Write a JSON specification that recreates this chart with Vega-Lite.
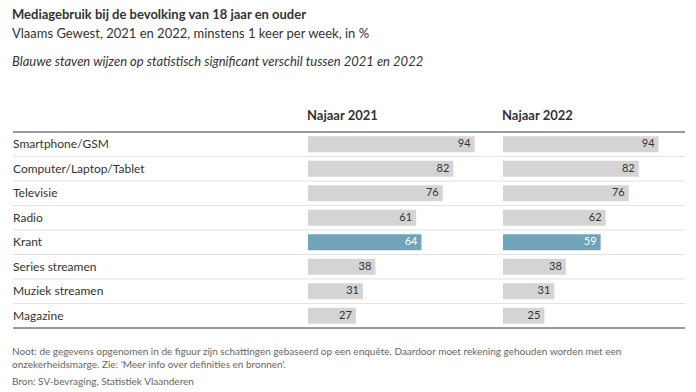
{
  "$schema": "https://vega.github.io/schema/vega-lite/v6.json",
  "padding": {"left": 12, "top": 9, "right": 12, "bottom": 5},
  "background": "white",
  "datasets": {
    "rows": [
      {"medium": "Smartphone/GSM", "periode": "Najaar 2021", "waarde": 94, "significant": false},
      {"medium": "Computer/Laptop/Tablet", "periode": "Najaar 2021", "waarde": 82, "significant": false},
      {"medium": "Televisie", "periode": "Najaar 2021", "waarde": 76, "significant": false},
      {"medium": "Radio", "periode": "Najaar 2021", "waarde": 61, "significant": false},
      {"medium": "Krant", "periode": "Najaar 2021", "waarde": 64, "significant": true},
      {"medium": "Series streamen", "periode": "Najaar 2021", "waarde": 38, "significant": false},
      {"medium": "Muziek streamen", "periode": "Najaar 2021", "waarde": 31, "significant": false},
      {"medium": "Magazine", "periode": "Najaar 2021", "waarde": 27, "significant": false},
      {"medium": "Smartphone/GSM", "periode": "Najaar 2022", "waarde": 94, "significant": false},
      {"medium": "Computer/Laptop/Tablet", "periode": "Najaar 2022", "waarde": 82, "significant": false},
      {"medium": "Televisie", "periode": "Najaar 2022", "waarde": 76, "significant": false},
      {"medium": "Radio", "periode": "Najaar 2022", "waarde": 62, "significant": false},
      {"medium": "Krant", "periode": "Najaar 2022", "waarde": 59, "significant": true},
      {"medium": "Series streamen", "periode": "Najaar 2022", "waarde": 38, "significant": false},
      {"medium": "Muziek streamen", "periode": "Najaar 2022", "waarde": 31, "significant": false},
      {"medium": "Magazine", "periode": "Najaar 2022", "waarde": 25, "significant": false}
    ]
  },
  "config": {
    "font": "Lato",
    "view": {"stroke": null},
    "concat": {"spacing": 0},
    "title": {"anchor": "start", "color": "#333333", "font": "Lato"}
  },
  "title": {
    "text": "Mediagebruik bij de bevolking van 18 jaar en ouder",
    "subtitle": "Vlaams Gewest, 2021 en 2022, minstens 1 keer per week, in %",
    "fontSize": 13,
    "fontWeight": "bold",
    "subtitleFontSize": 13,
    "subtitleColor": "#333333",
    "subtitlePadding": 6,
    "offset": 15
  },
  "vconcat": [
    {
      "title": {
        "text": "Blauwe staven wijzen op statistisch significant verschil tussen 2021 en 2022",
        "fontSize": 13,
        "fontStyle": "italic",
        "fontWeight": "normal",
        "color": "#333333",
        "offset": 41
      },
      "bounds": "flush",
      "spacing": 0,
      "hconcat": [
        {
          "width": 295,
          "height": 196,
          "data": {"name": "rows"},
          "transform": [{"filter": "datum.periode === 'Najaar 2021'"}],
          "title": {
            "text": ["Noot: de gegevens opgenomen in de figuur zijn schattingen gebaseerd op een enquête. Daardoor moet rekening gehouden worden met een", "onzekerheidsmarge. Zie: 'Meer info over definities en bronnen'."],
            "subtitle": "Bron: SV-bevraging, Statistiek Vlaanderen",
            "orient": "bottom",
            "anchor": "start",
            "fontSize": 10,
            "fontWeight": "normal",
            "color": "#666666",
            "lineHeight": 13,
            "subtitleFontSize": 10,
            "subtitleColor": "#666666",
            "subtitlePadding": 7,
            "offset": 18,
            "limit": 0
          },
          "encoding": {
            "y": {"field": "medium", "type": "nominal", "sort": null, "axis": null, "scale": {"paddingInner": 0, "paddingOuter": 0}}
          },
          "layer": [
            {
              "mark": {"type": "rule", "color": "#e3e3e3", "strokeWidth": 1},
              "transform": [{"filter": "datum.medium !== 'Magazine'"}],
              "encoding": {"y": {"field": "medium", "type": "nominal", "sort": null, "bandPosition": 1}}
            },
            {
              "mark": {"type": "rule", "color": "#9a9a9a", "strokeWidth": 2},
              "transform": [{"filter": "datum.medium === 'Smartphone/GSM'"}],
              "encoding": {"y": {"field": "medium", "type": "nominal", "sort": null, "bandPosition": 0}}
            },
            {
              "mark": {"type": "rule", "color": "#9a9a9a", "strokeWidth": 2},
              "transform": [{"filter": "datum.medium === 'Magazine'"}],
              "encoding": {"y": {"field": "medium", "type": "nominal", "sort": null, "bandPosition": 1}}
            },
            {
              "mark": {"type": "text", "align": "left", "baseline": "middle", "fontSize": 12, "color": "#333333"},
              "encoding": {
                "x": {"datum": 0, "type": "quantitative", "scale": {"domain": [0, 1]}, "axis": null},
                "text": {"field": "medium"}
              }
            }
          ]
        },
        {
          "width": 195,
          "height": 196,
          "data": {"name": "rows"},
          "transform": [{"filter": "datum.periode === 'Najaar 2021'"}],
          "title": {"text": "Najaar 2021", "fontSize": 13, "fontWeight": "bold", "color": "#333333", "offset": 8},
          "encoding": {
            "y": {"field": "medium", "type": "nominal", "sort": null, "axis": null, "scale": {"paddingInner": 0, "paddingOuter": 0}}
          },
          "layer": [
            {
              "mark": {"type": "rule", "color": "#e3e3e3", "strokeWidth": 1},
              "transform": [{"filter": "datum.medium !== 'Magazine'"}],
              "encoding": {"y": {"field": "medium", "type": "nominal", "sort": null, "bandPosition": 1}}
            },
            {
              "mark": {"type": "rule", "color": "#9a9a9a", "strokeWidth": 2},
              "transform": [{"filter": "datum.medium === 'Smartphone/GSM'"}],
              "encoding": {"y": {"field": "medium", "type": "nominal", "sort": null, "bandPosition": 0}}
            },
            {
              "mark": {"type": "rule", "color": "#9a9a9a", "strokeWidth": 2},
              "transform": [{"filter": "datum.medium === 'Magazine'"}],
              "encoding": {"y": {"field": "medium", "type": "nominal", "sort": null, "bandPosition": 1}}
            },
            {
              "mark": {"type": "bar", "height": {"band": 0.66}},
              "encoding": {
                "x": {"field": "waarde", "type": "quantitative", "scale": {"domain": [0, 108.9]}, "axis": null},
                "color": {"field": "significant", "type": "nominal", "scale": {"domain": [false, true], "range": ["#d4d4d4", "#70a4ba"]}, "legend": null}
              }
            },
            {
              "mark": {"type": "text", "align": "right", "baseline": "middle", "dx": -4, "fontSize": 11},
              "encoding": {
                "x": {"field": "waarde", "type": "quantitative"},
                "text": {"field": "waarde"},
                "color": {"condition": {"test": "datum.significant", "value": "white"}, "value": "#333333"}
              }
            }
          ]
        },
        {
          "width": 182,
          "height": 196,
          "data": {"name": "rows"},
          "transform": [{"filter": "datum.periode === 'Najaar 2022'"}],
          "title": {"text": "Najaar 2022", "fontSize": 13, "fontWeight": "bold", "color": "#333333", "offset": 8},
          "encoding": {
            "y": {"field": "medium", "type": "nominal", "sort": null, "axis": null, "scale": {"paddingInner": 0, "paddingOuter": 0}}
          },
          "layer": [
            {
              "mark": {"type": "rule", "color": "#e3e3e3", "strokeWidth": 1},
              "transform": [{"filter": "datum.medium !== 'Magazine'"}],
              "encoding": {"y": {"field": "medium", "type": "nominal", "sort": null, "bandPosition": 1}}
            },
            {
              "mark": {"type": "rule", "color": "#9a9a9a", "strokeWidth": 2},
              "transform": [{"filter": "datum.medium === 'Smartphone/GSM'"}],
              "encoding": {"y": {"field": "medium", "type": "nominal", "sort": null, "bandPosition": 0}}
            },
            {
              "mark": {"type": "rule", "color": "#9a9a9a", "strokeWidth": 2},
              "transform": [{"filter": "datum.medium === 'Magazine'"}],
              "encoding": {"y": {"field": "medium", "type": "nominal", "sort": null, "bandPosition": 1}}
            },
            {
              "mark": {"type": "bar", "height": {"band": 0.66}},
              "encoding": {
                "x": {"field": "waarde", "type": "quantitative", "scale": {"domain": [0, 101]}, "axis": null},
                "color": {"field": "significant", "type": "nominal", "scale": {"domain": [false, true], "range": ["#d4d4d4", "#70a4ba"]}, "legend": null}
              }
            },
            {
              "mark": {"type": "text", "align": "right", "baseline": "middle", "dx": -4, "fontSize": 11},
              "encoding": {
                "x": {"field": "waarde", "type": "quantitative"},
                "text": {"field": "waarde"},
                "color": {"condition": {"test": "datum.significant", "value": "white"}, "value": "#333333"}
              }
            }
          ]
        }
      ]
    }
  ]
}
